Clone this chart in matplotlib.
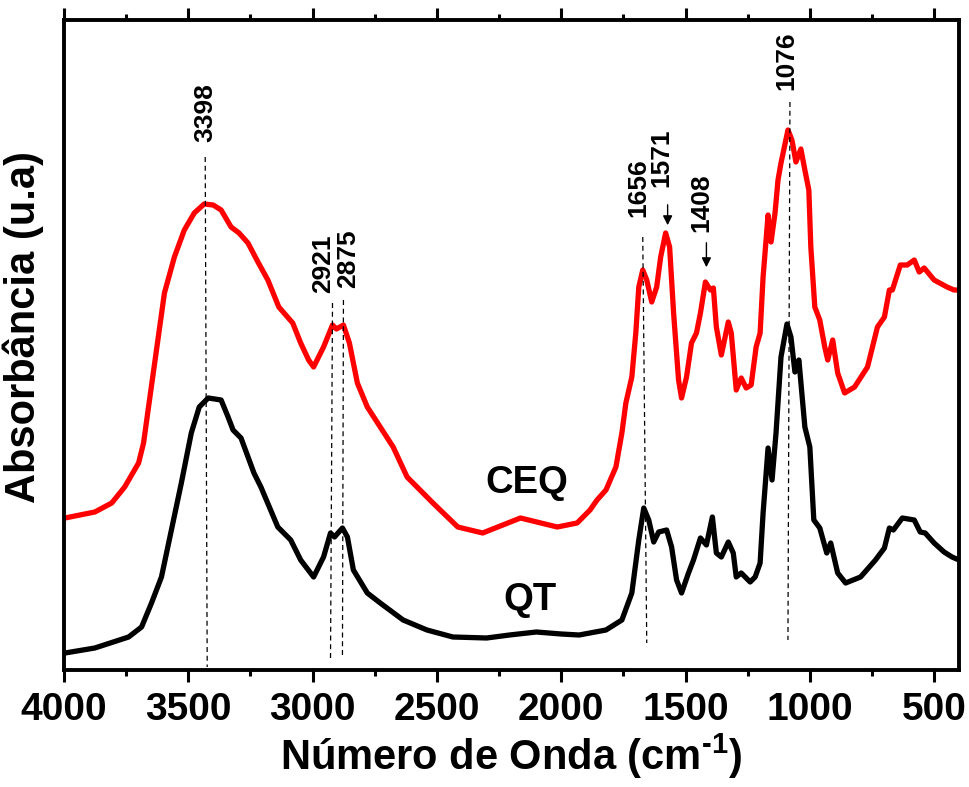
import matplotlib
matplotlib.use("Agg")
import matplotlib.pyplot as plt
from matplotlib.ticker import MultipleLocator

plt.rcParams['font.family'] = ['Liberation Sans', 'DejaVu Sans']
plt.rcParams['font.weight'] = 'bold'
plt.rcParams['mathtext.fontset'] = 'custom'
plt.rcParams['mathtext.rm'] = 'Liberation Sans:bold'
plt.rcParams['mathtext.bf'] = 'Liberation Sans:bold'

# ---- data (wavenumber cm-1, absorbance a.u.) ----
qt_wn = [3996, 3876, 3740, 3688, 3648, 3608, 3568, 3528, 3488, 3456, 3420, 3368, 3340, 3320, 3288,
         3236, 3208, 3140, 3088, 3048, 2996, 2956, 2928, 2912, 2880, 2860, 2836, 2780, 2728, 2636,
         2540, 2436, 2300, 2208, 2100, 2000, 1928, 1820, 1756, 1716, 1688, 1668, 1648, 1628, 1608,
         1576, 1556, 1536, 1516, 1488, 1468, 1440, 1416, 1392, 1376, 1356, 1328, 1308, 1296, 1276,
         1240, 1220, 1200, 1188, 1168, 1152, 1136, 1116, 1092, 1076, 1060, 1044, 1020, 1000, 984,
         960, 932, 916, 888, 856, 796, 736, 700, 680, 664, 628, 580, 556, 536, 500, 460, 428, 400]
qt_abs = [0.37, 0.42, 0.53, 0.63, 0.87, 1.13, 1.60, 2.07, 2.57, 2.83, 2.92, 2.90, 2.73, 2.60, 2.52,
          2.17, 2.03, 1.63, 1.50, 1.30, 1.13, 1.33, 1.57, 1.53, 1.62, 1.53, 1.20, 0.97, 0.87, 0.70,
          0.60, 0.53, 0.52, 0.55, 0.58, 0.56, 0.55, 0.60, 0.70, 0.97, 1.50, 1.82, 1.70, 1.48, 1.58,
          1.60, 1.43, 1.10, 0.97, 1.17, 1.30, 1.52, 1.45, 1.73, 1.37, 1.33, 1.48, 1.37, 1.13, 1.17,
          1.08, 1.13, 1.27, 1.77, 2.42, 2.10, 2.57, 3.33, 3.66, 3.53, 3.18, 3.30, 2.63, 2.43, 1.70,
          1.62, 1.37, 1.47, 1.17, 1.07, 1.13, 1.30, 1.42, 1.62, 1.60, 1.72, 1.70, 1.58, 1.57, 1.47,
          1.38, 1.33, 1.30]

ceq_wn = [3996, 3876, 3808, 3756, 3700, 3680, 3660, 3628, 3596, 3556, 3516, 3476, 3436, 3400, 3368,
          3328, 3296, 3260, 3220, 3180, 3136, 3080, 3048, 3016, 2996, 2956, 2920, 2904, 2876, 2852,
          2820, 2780, 2728, 2676, 2620, 2516, 2416, 2316, 2164, 2016, 1936, 1884, 1856, 1820, 1780,
          1756, 1740, 1716, 1700, 1688, 1672, 1656, 1636, 1616, 1600, 1580, 1564, 1548, 1528, 1516,
          1496, 1476, 1456, 1440, 1420, 1400, 1388, 1376, 1356, 1328, 1316, 1296, 1276, 1256, 1236,
          1216, 1200, 1188, 1168, 1156, 1140, 1128, 1116, 1088, 1072, 1056, 1036, 1020, 1004, 996,
          980, 960, 940, 928, 908, 888, 860, 820, 768, 728, 700, 680, 668, 636, 608, 580, 560, 540,
          500, 448, 420, 400]
ceq_abs = [1.72, 1.78, 1.87, 2.03, 2.27, 2.47, 2.83, 3.40, 3.97, 4.33, 4.60, 4.77, 4.86, 4.85, 4.80,
           4.63, 4.57, 4.47, 4.28, 4.10, 3.83, 3.67, 3.47, 3.30, 3.23, 3.43, 3.65, 3.61, 3.65, 3.47,
           3.07, 2.83, 2.63, 2.43, 2.13, 1.87, 1.63, 1.57, 1.72, 1.63, 1.67, 1.80, 1.90, 2.00, 2.23,
           2.57, 2.87, 3.13, 3.57, 4.03, 4.20, 4.10, 3.88, 4.03, 4.33, 4.57, 4.43, 3.77, 3.10, 2.92,
           3.13, 3.47, 3.57, 3.77, 4.08, 4.00, 4.02, 3.63, 3.35, 3.68, 3.57, 3.00, 3.12, 3.02, 3.05,
           3.43, 3.57, 4.13, 4.75, 4.48, 4.77, 5.10, 5.27, 5.60, 5.50, 5.28, 5.41, 5.20, 5.00, 4.43,
           3.83, 3.70, 3.43, 3.30, 3.50, 3.17, 2.97, 3.03, 3.23, 3.63, 3.73, 4.00, 4.00, 4.25, 4.25,
           4.30, 4.18, 4.22, 4.10, 4.03, 4.00, 4.00]

# peak annotations: label, dashed line (x top, y top, x bottom, y bottom), label anchor (x, y)
dash_labels = ['3398', '2921', '2875', '1656', '1076']
dash_x_top = [3432, 2920, 2876, 1672, 1080]
dash_y_top = [5.33, 3.87, 3.90, 4.53, 5.88]
dash_x_bot = [3424, 2928, 2880, 1656, 1088]
dash_y_bot = [0.23, 0.32, 0.33, 0.47, 0.50]
dash_text_x = [3432, 2956, 2856, 1688, 1096]
dash_text_y = [5.48, 3.97, 4.02, 4.73, 6.00]

arrow_labels = ['1571', '1408']
arrow_x = [1572, 1416]
arrow_y_start = [4.88, 4.50]
arrow_y_end = [4.62, 4.20]
arrow_text_x = [1596, 1436]
arrow_text_y = [5.03, 4.58]

series_names = ['CEQ', 'QT']
series_text_x = [2140, 2124]
series_text_y = [2.07, 0.90]

# ---- figure ----
fig = plt.figure(figsize=(9.69, 7.87), dpi=100)
ax = fig.add_axes([64/969, 1-670/787, 895/969, 650/787])

ax.plot(ceq_wn, ceq_abs, color='#ff0000', lw=3.8, solid_joinstyle='round', solid_capstyle='round')
ax.plot(qt_wn, qt_abs, color='black', lw=3.8, solid_joinstyle='round', solid_capstyle='round')

for lab, xt, yt, xb, yb, tx, ty in zip(dash_labels, dash_x_top, dash_y_top, dash_x_bot, dash_y_bot,
                                       dash_text_x, dash_text_y):
    ax.plot([xt, xb], [yt, yb], color='black', lw=0.9, ls=(0, (4, 3)))
    ax.text(tx, ty, lab, rotation=90, ha='center', va='bottom', fontsize=19, fontweight='bold')

for lab, x, ys, ye, tx, ty in zip(arrow_labels, arrow_x, arrow_y_start, arrow_y_end,
                                  arrow_text_x, arrow_text_y):
    ax.annotate('', xy=(x, ye), xytext=(x, ys),
                arrowprops=dict(arrowstyle='-|>', color='black', lw=1.0, mutation_scale=14))
    ax.text(tx, ty, lab, rotation=90, ha='center', va='bottom', fontsize=19, fontweight='bold')

for name, tx, ty in zip(series_names, series_text_x, series_text_y):
    ax.text(tx, ty, name, ha='center', va='center', fontsize=27.5, fontweight='bold')

ax.set_xlim(4000, 400)
ax.set_ylim(0.2, 6.7)
ax.xaxis.set_major_locator(MultipleLocator(500))
ax.xaxis.set_minor_locator(MultipleLocator(250))
ax.set_yticks([])
ax.tick_params(axis='x', which='major', direction='out', length=8.5, width=2.2,
               labelsize=28, pad=7, top=True, bottom=True)
ax.tick_params(axis='x', which='minor', direction='out', length=4.5, width=2.2,
               top=True, bottom=True)
for lbl in ax.get_xticklabels():
    lbl.set_fontweight('bold')
for sp in ax.spines.values():
    sp.set_linewidth(2.8)

ax.set_xlabel(r'Número de Onda (cm$^{\text{-}1}$)', fontsize=30, fontweight='bold')
ax.set_ylabel('Absorbância (u.a)', fontsize=30, fontweight='bold')
ax.xaxis.set_label_coords(0.5, -0.095)
ax.yaxis.set_label_coords(-0.022, 0.528)

fig.savefig('out.png', dpi=100)
